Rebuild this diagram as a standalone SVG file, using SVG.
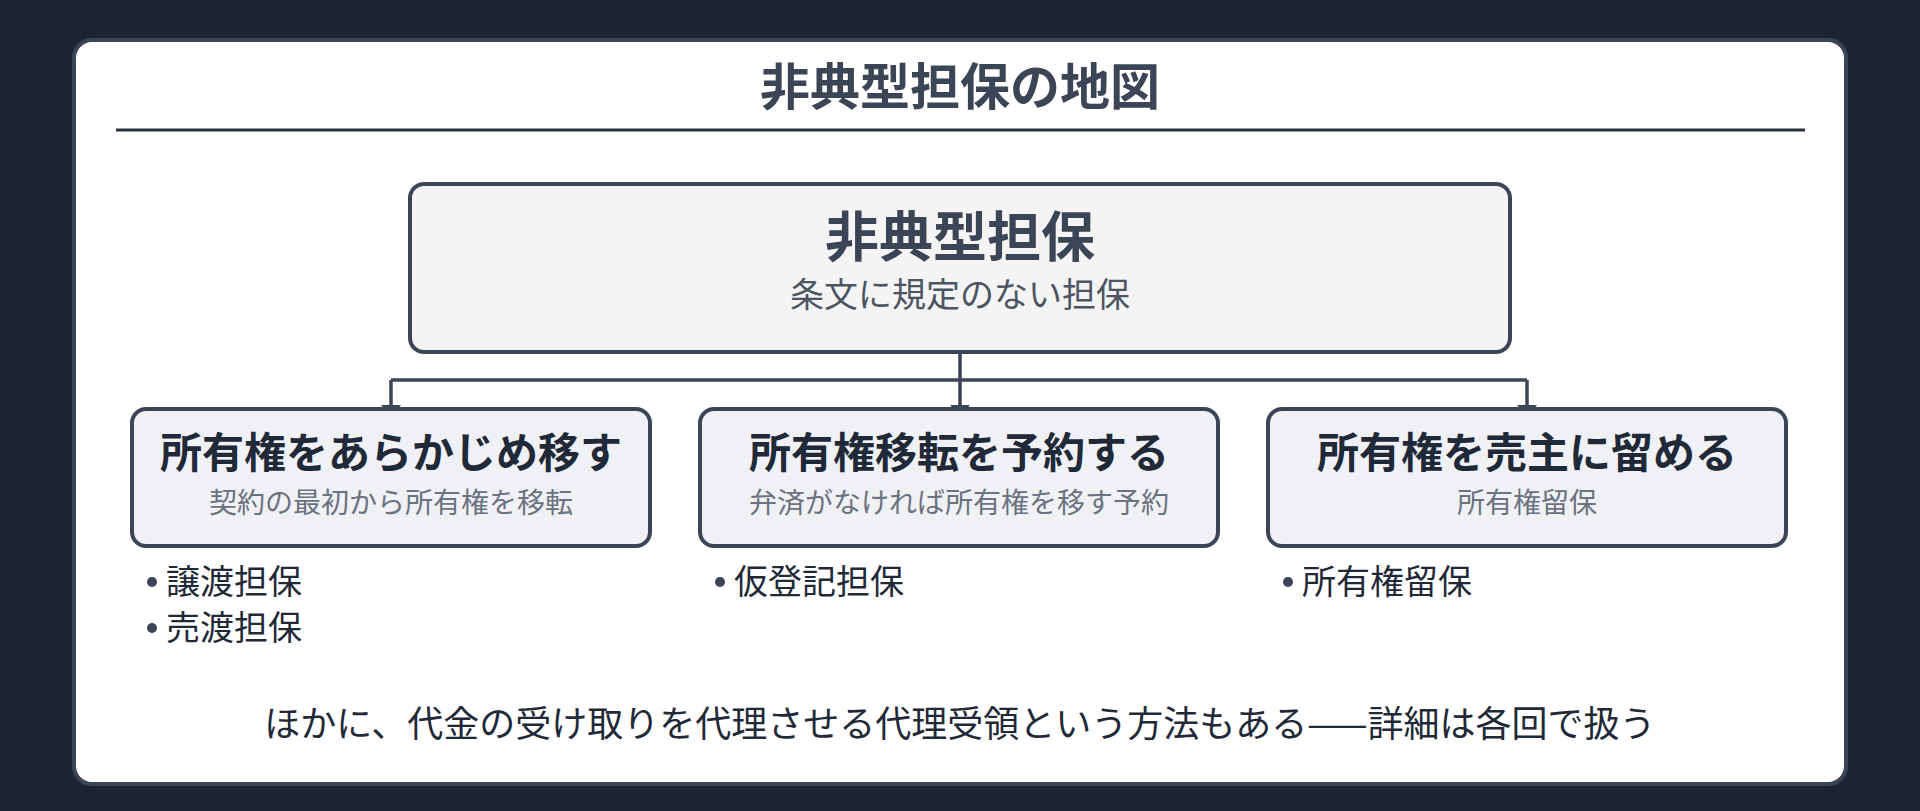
<svg xmlns="http://www.w3.org/2000/svg" width="1920" height="811" viewBox="0 0 1920 811">
  <defs>
    <style>
      .jp { font-family: "Noto Sans CJK JP", "Noto Sans CJK SC", sans-serif; }
      .title { font-size: 50px; font-weight: 700; fill: #3b4556; }
      .rootT { font-size: 54px; font-weight: 700; fill: #3b4556; }
      .rootS { font-size: 34px; font-weight: 400; fill: #4b5563; }
      .childT { font-size: 42px; font-weight: 700; fill: #1f2937; }
      .childS { font-size: 28px; font-weight: 400; fill: #6b7280; }
      .item { font-size: 34px; font-weight: 400; fill: #1f2937; }
      .foot { font-size: 36px; font-weight: 400; fill: #1f2937; }
      .root { fill: #f4f4f5; stroke: #3b4556; stroke-width: 4; }
      .child { fill: #eff1f5; stroke: #3b4556; stroke-width: 4; }
      .dot { fill: #3b4556; }
      .conn { fill: none; stroke: #3b4556; stroke-width: 3.5; }
    </style>
    <marker id="arrow" markerUnits="userSpaceOnUse" markerWidth="12" markerHeight="20" viewBox="0 0 12 20" refX="12" refY="10" orient="auto">
      <path d="M0,0 L12,10 L0,20 z" fill="#3b4556"/>
    </marker>
  </defs>

  <rect x="0" y="0" width="1920" height="811" fill="#1e2430"/>

  <g id="card">
    <rect x="74" y="40" width="1772" height="744" rx="18" fill="#ffffff" stroke="#3b4556" stroke-width="4"/>
    <text class="jp title" x="960" y="105" text-anchor="middle">非典型担保の地図</text>
    <line x1="116" y1="130" x2="1805" y2="130" stroke="#2d3440" stroke-width="3"/>
  </g>

  <g id="connectors">
    <path class="conn" d="M960,352 V380"/>
    <path class="conn" d="M391,380 H1527"/>
    <path class="conn" d="M391,380 V417" marker-end="url(#arrow)"/>
    <path class="conn" d="M960,380 V417" marker-end="url(#arrow)"/>
    <path class="conn" d="M1527,380 V417" marker-end="url(#arrow)"/>
  </g>

  <g id="root">
    <rect class="root" x="410" y="184" width="1100" height="168" rx="14"/>
    <text class="jp rootT" x="960" y="257" text-anchor="middle">非典型担保</text>
    <text class="jp rootS" x="960" y="307" text-anchor="middle">条文に規定のない担保</text>
  </g>

  <g id="node-transfer">
    <rect class="child" x="132" y="409" width="518" height="137" rx="14"/>
    <text class="jp childT" x="391" y="468" text-anchor="middle">所有権をあらかじめ移す</text>
    <text class="jp childS" x="391" y="513" text-anchor="middle">契約の最初から所有権を移転</text>
  </g>

  <g id="node-reserve">
    <rect class="child" x="700" y="409" width="518" height="137" rx="14"/>
    <text class="jp childT" x="959" y="468" text-anchor="middle">所有権移転を予約する</text>
    <text class="jp childS" x="959" y="513" text-anchor="middle">弁済がなければ所有権を移す予約</text>
  </g>

  <g id="node-retain">
    <rect class="child" x="1268" y="409" width="518" height="137" rx="14"/>
    <text class="jp childT" x="1527" y="468" text-anchor="middle">所有権を売主に留める</text>
    <text class="jp childS" x="1527" y="513" text-anchor="middle">所有権留保</text>
  </g>

  <g id="list-transfer">
    <circle class="dot" cx="152" cy="582" r="5"/>
    <text class="jp item" x="166" y="594">譲渡担保</text>
    <circle class="dot" cx="152" cy="628" r="5"/>
    <text class="jp item" x="166" y="640">売渡担保</text>
  </g>

  <g id="list-reserve">
    <circle class="dot" cx="720" cy="582" r="5"/>
    <text class="jp item" x="734" y="594">仮登記担保</text>
  </g>

  <g id="list-retain">
    <circle class="dot" cx="1288" cy="582" r="5"/>
    <text class="jp item" x="1302" y="594">所有権留保</text>
  </g>

  <g id="footer">
    <text class="jp foot" x="960" y="737" text-anchor="middle">ほかに、代金の受け取りを代理させる代理受領という方法もある——詳細は各回で扱う</text>
  </g>
</svg>
